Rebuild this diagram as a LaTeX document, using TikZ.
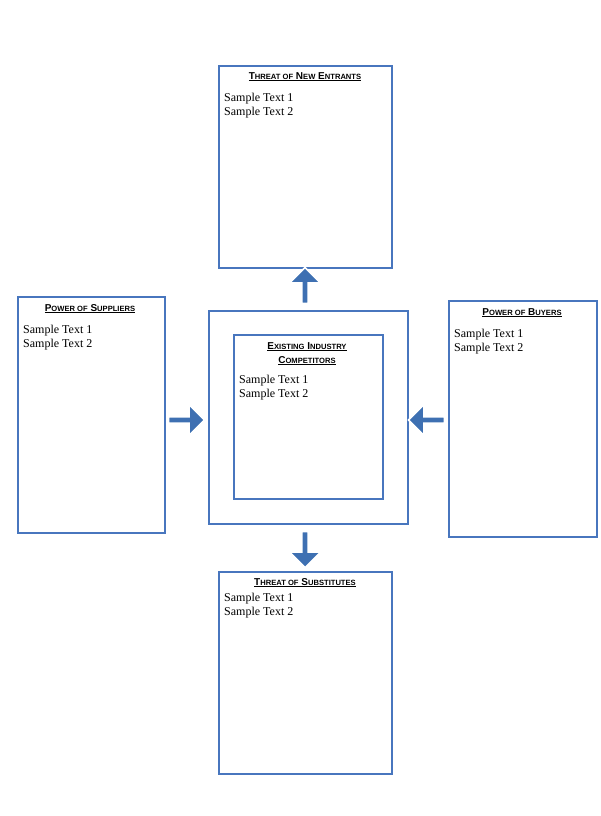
\documentclass[tikz,border=0pt]{standalone}
\usepackage{fontspec}
\setmainfont{Liberation Serif}
\newfontfamily\ttl{Liberation Sans}
\usetikzlibrary{shapes.arrows}
\definecolor{bx}{RGB}{72,118,190}
\definecolor{ar}{RGB}{62,112,178}
\newcommand{\BigL}[1]{{\fontsize{10}{12}\selectfont #1}}
\newcommand{\SmL}[1]{{\fontsize{7.6}{12}\selectfont #1}}
\begin{document}
\begin{tikzpicture}[x=1pt,y=-1pt,
  box/.style={draw=bx,line width=1.8pt},
  ttl/.style={font=\ttl\bfseries,anchor=north,inner sep=0pt},
  txt/.style={font=\fontsize{12}{14}\selectfont,anchor=north west,align=left,inner sep=0pt},
  arr/.style={single arrow,fill=ar,draw=white,line width=1.5pt,minimum height=36pt,minimum width=31pt,single arrow head extend=3pt,inner sep=0pt}]
\useasboundingbox (0,0) rectangle (600,816);
\fill[white] (0,0) rectangle (600,816);
% boxes
\node[box,minimum width=173pt,minimum height=202pt,anchor=north west,inner sep=0pt] (top) at (218,65) {};
\node[box,minimum width=147pt,minimum height=236pt,anchor=north west,inner sep=0pt] (left) at (17,296) {};
\node[box,minimum width=148pt,minimum height=236pt,anchor=north west,inner sep=0pt] (right) at (448,300) {};
\node[box,minimum width=173pt,minimum height=202pt,anchor=north west,inner sep=0pt] (bot) at (218,571) {};
\node[box,minimum width=199pt,minimum height=213pt,anchor=north west,inner sep=0pt] (outer) at (208,310) {};
\node[box,minimum width=149pt,minimum height=164pt,anchor=north west,inner sep=0pt] (inner) at (233,334) {};
% titles
\node[ttl] (t1) at (305,72) {\underline{\BigL{T}\SmL{HREAT OF} \BigL{N}\SmL{EW} \BigL{E}\SmL{NTRANTS}}};
\node[txt] (s1) at (224,93) {Sample Text 1\\Sample Text 2};
\node[ttl] (t2) at (90,304) {\underline{\BigL{P}\SmL{OWER OF} \BigL{S}\SmL{UPPLIERS}}};
\node[txt] (s2) at (23,325) {Sample Text 1\\Sample Text 2};
\node[ttl] (t3) at (522,308) {\underline{\BigL{P}\SmL{OWER OF} \BigL{B}\SmL{UYERS}}};
\node[txt] (s3) at (454,329) {Sample Text 1\\Sample Text 2};
\node[ttl,align=center] (t4) at (307,342) {\underline{\BigL{E}\SmL{XISTING} \BigL{I}\SmL{NDUSTRY}}\\[2pt]\underline{\BigL{C}\SmL{OMPETITORS}}};
\node[txt] (s4) at (239,375) {Sample Text 1\\Sample Text 2};
\node[ttl] (t5) at (305,578) {\underline{\BigL{T}\SmL{HREAT OF} \BigL{S}\SmL{UBSTITUTES}}};
\node[txt] (s5) at (224,593) {Sample Text 1\\Sample Text 2};
% arrows
\node[arr,shape border rotate=90] (a1) at (305,287) {};
\node[arr,shape border rotate=0] (a2) at (185,420) {};
\node[arr,shape border rotate=180] (a3) at (428,420) {};
\node[arr,shape border rotate=270] (a4) at (305,548) {};
\end{tikzpicture}
\end{document}
